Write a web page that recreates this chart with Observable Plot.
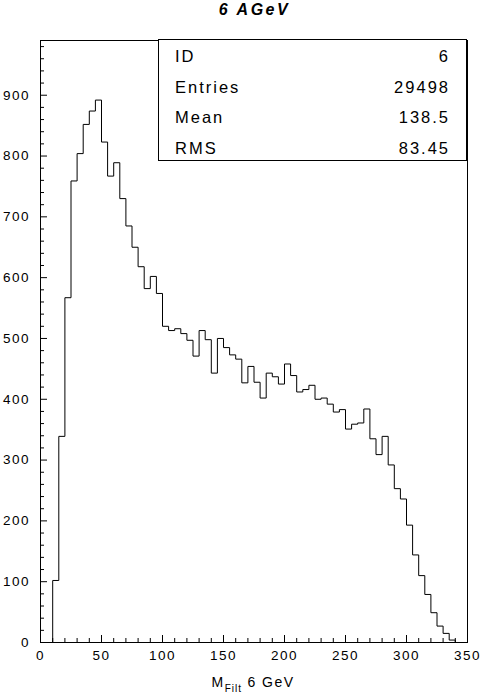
<!DOCTYPE html>
<html><head><meta charset="utf-8">
<script src="https://cdn.jsdelivr.net/npm/d3@7"></script>
<script src="https://cdn.jsdelivr.net/npm/@observablehq/plot@0.6"></script>
<style>
body{margin:0;background:#fff;}
#wrap{position:relative;width:481px;height:693px;}
#wrap svg text{letter-spacing:1.5px;}
</style></head><body>
<div id="wrap"></div>
<script>
const title = "6 AGeV";
const xTitleMain = "M";
const xTitleSub = "Filt";
const xTitleRest = " 6 GeV";
const binLow = 10;
const binWidth = 5;
const counts = [
  102, 339, 567, 759, 804, 852, 874, 892, 823, 767,
  789, 730, 685, 650, 618, 582, 602, 574, 520, 513,
  516, 508, 497, 471, 513, 498, 443, 500, 485, 473,
  466, 427, 454, 428, 402, 443, 437, 425, 458, 439,
  412, 416, 423, 400, 402, 392, 379, 383, 351, 359,
  361, 384, 335, 309, 339, 292, 253, 236, 193, 144,
  110, 79, 49, 27, 15, 4
];
const xTicks = [0, 50, 100, 150, 200, 250, 300, 350];
const xMinorTicks = [10,20,30,40,60,70,80,90,110,120,130,140,160,170,180,190,210,220,230,240,260,270,280,290,310,320,330,340];
const yTicks = [0, 100, 200, 300, 400, 500, 600, 700, 800, 900];
const yMinorTicks = [20,40,60,80,120,140,160,180,220,240,260,280,320,340,360,380,420,440,460,480,520,540,560,580,620,640,660,680,720,740,760,780,820,840,860,880,920,940,960,980];
const statsLabels = ["ID", "Entries", "Mean", "RMS"];
const statsValues = ["6", "29498", "138.5", "83.45"];

// step outline of the histogram built from the bin counts
const pts = [{x: binLow, y: 0}];
counts.forEach((c, i) => {
  const lo = binLow + i * binWidth;
  pts.push({x: lo, y: c}, {x: lo + binWidth, y: c});
});
pts.push({x: binLow + counts.length * binWidth, y: 0});

const font = '"Liberation Sans", Arial, Helvetica, sans-serif';

const svg = Plot.plot({
  width: 481,
  height: 693,
  marginLeft: 40,
  marginRight: 14,
  marginTop: 40,
  marginBottom: 51,
  style: {fontFamily: font, fontSize: "13.5px", background: "white", color: "black", overflow: "visible"},
  x: {domain: [0, 350]},
  y: {domain: [0, 990]},
  marks: [
    Plot.frame({stroke: "black", strokeWidth: 1}),
    Plot.axisX({ticks: xMinorTicks, tickSize: -4, tickFormat: () => "", label: null}),
    Plot.axisX({ticks: xTicks, tickSize: -7, tickFormat: () => "", label: null}),
    Plot.axisX({ticks: xTicks, tickSize: 0, tickPadding: 8, label: null, fill: "black"}),
    Plot.axisY({ticks: yMinorTicks, tickSize: -4, tickFormat: () => "", label: null}),
    Plot.axisY({ticks: yTicks, tickSize: -7, tickFormat: () => "", label: null}),
    Plot.axisY({ticks: yTicks, tickSize: 0, tickPadding: 10.5, label: null, fill: "black"}),
    Plot.line(pts, {x: "x", y: "y", stroke: "black", strokeWidth: 1, curve: "linear"})
  ]
});

const s = d3.select(svg);
// title
s.append("text")
  .attr("x", 254.5).attr("y", 15)
  .attr("text-anchor", "middle")
  .style("font-family", font).style("font-size", "16px")
  .style("font-weight", "bold").style("font-style", "italic")
  .style("letter-spacing", "2.5px")
  .attr("fill", "black")
  .text(title);

// x-axis title with subscript
const xt = s.append("text")
  .attr("x", 211.5).attr("y", 686.5)
  .attr("text-anchor", "start")
  .style("font-family", font).style("font-size", "14px")
  .style("letter-spacing", "1.5px")
  .attr("fill", "black");
xt.append("tspan").text(xTitleMain);
xt.append("tspan").attr("dy", 5).style("font-size", "10px").style("letter-spacing", "1px").text(xTitleSub);
xt.append("tspan").attr("dy", -5).text(xTitleRest);

// statistics box
s.append("rect")
  .attr("x", 158.5).attr("y", 39.5)
  .attr("width", 308).attr("height", 121)
  .attr("fill", "white").attr("stroke", "black").attr("stroke-width", 1);
const baselines = [62, 92.5, 123, 153.5];
statsLabels.forEach((lab, i) => {
  s.append("text")
    .attr("x", 175).attr("y", baselines[i])
    .attr("text-anchor", "start")
    .style("font-family", font).style("font-size", "16.5px")
    .style("letter-spacing", "2px")
    .attr("fill", "black")
    .text(lab);
  s.append("text")
    .attr("x", 450).attr("y", baselines[i])
    .attr("text-anchor", "end")
    .style("font-family", font).style("font-size", "16.5px")
    .style("letter-spacing", "2px")
    .attr("fill", "black")
    .text(statsValues[i]);
});

document.getElementById("wrap").appendChild(svg);
</script>
</body></html>
